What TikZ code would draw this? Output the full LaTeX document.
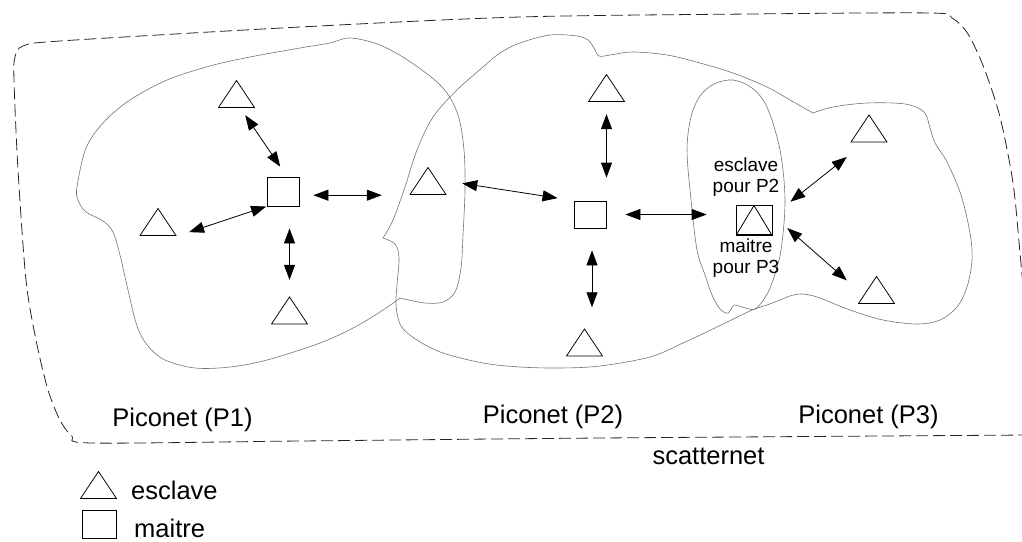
\documentclass[tikz,border=0pt]{standalone}
\usepackage{fontspec}
\setmainfont{Liberation Sans}
\usetikzlibrary{arrows.meta}

\tikzset{
  trianglepic/.style={path picture={
    \draw[line width=0.8pt]
      ([xshift=0.5pt,yshift=0.5pt]path picture bounding box.south west)
      -- ([yshift=-0.5pt]path picture bounding box.north)
      -- ([xshift=-0.5pt,yshift=0.5pt]path picture bounding box.south east) -- cycle;}},
  slave/.style={inner sep=0pt, minimum width=37pt, minimum height=28pt, trianglepic},
  master/.style={draw, line width=0.8pt, inner sep=0pt, minimum width=32pt, minimum height=29pt},
  link/.style={line width=0.8pt, {Triangle[length=15pt,width=11pt]}-{Triangle[length=15pt,width=11pt]}},
  zone/.style={draw=black!55, line width=0.6pt},
  scatter/.style={draw=black!85, line width=0.8pt, dash pattern=on 12pt off 5pt},
  bigtext/.style={inner sep=0pt, font=\fontsize{25.5}{30}\selectfont},
  smalltext/.style={inner sep=0pt, align=center, font=\fontsize{19}{21}\selectfont}
}

\begin{document}
\begin{tikzpicture}[x=1pt,y=-1pt]
\useasboundingbox (0,0) rectangle (1022,541);
\clip (0,0) rectangle (1022,541);

% scatternet boundary
\draw[scatter] plot[smooth, tension=0.5] coordinates {
  (1030,435) (600,438) (300,441) (92,443) (72,436) (60,420) (48,390) (36,340)
  (26,280) (18,170) (14,80) (15,57) (23,46) (60,41) (300,27) (520,17) (750,14)
  (930,13) (952,18) (968,34) (984,68) (1000,117) (1013,183) (1020,253) (1026,320)};

% piconet P1 boundary
\draw[zone] plot[smooth, tension=0.55] coordinates {
  (400,298) (383,310) (355,327) (320,343) (267,360) (230,367) (195,368) (165,360)
  (148,346) (137,326) (128,290) (120,255) (113,232) (103,221) (86,212) (78,200)
  (77,187) (86,148) (104,122) (130,100) (167,80) (210,66) (250,57) (300,48)
  (330,43) (350,38) (380,45) (412,63) (443,88) (458,115) (464,150) (465,190)
  (463,235) (461,268) (455,292) (443,302) (425,303) (400,298)};

% piconets P2 and P3 boundary
\draw[zone] plot[smooth, tension=0.55] coordinates {
  (383,238) (395,244) (399,258) (397,285) (396,305) (401,326) (417,340) (443,353)
  (483,363) (520,367) (560,368) (600,366) (650,357) (683,343) (717,327) (750,311) (767,305)}
  -- plot[smooth, tension=0.55] coordinates {
  (767,305) (780,300) (790,296) (801,294) (817,297) (850,310) (883,320) (917,324)
  (940,320) (957,307) (967,287) (972,260) (970,233) (961,195) (947,162) (935,143)
  (930,128) (924,112) (905,104) (867,103) (833,107) (813,113)}
  -- plot[smooth, tension=0.55] coordinates {
  (813,113) (790,100) (767,87) (733,73) (700,63) (667,55) (633,52) (610,55)
  (599,56) (594,48) (588,40) (577,36) (550,35) (520,43) (500,53) (483,67)
  (457,90) (433,117) (417,150) (405,187) (393,220) (383,238)};

% overlap zone of the bridge node
\draw[zone] plot[smooth cycle, tension=0.55] coordinates {
  (733,80) (752,88) (767,107) (780,150) (785,200) (781,250) (773,280) (766,296)
  (755,309) (742,307) (734,305) (728,313) (720,309) (712,295) (705,275) (697,250)
  (691,200) (687,150) (691,117) (700,96) (714,84)};

% devices
\node[slave] (t1) at (236.5,94) {};
\node[slave] (t2) at (158,222) {};
\node[slave] (t3) at (289.5,310.5) {};
\node[slave] (t4) at (428,181) {};
\node[slave] (t5) at (606.5,88) {};
\node[slave] (t6) at (584.5,342.5) {};
\node[slave] (t7) at (869,128.5) {};
\node[slave] (t8) at (876.5,290) {};
\node[master] (m1) at (283,191.5) {};
\node[master, minimum height=27pt] (m2) at (590,214.5) {};
\node[master, minimum width=36pt, minimum height=30pt, trianglepic] (m3) at (754,220) {};

% links
\draw[link, shorten <=8.4pt, shorten >=12pt] ([xshift=4pt]t1.south) -- ([xshift=4pt]m1.north);
\draw[link, shorten <=0.5pt, shorten >=13pt] (m1.south west) -- (t2.south east);
\draw[link, shorten <=22pt, shorten >=16.5pt] (m1.south -| t3.north) -- (t3.north);
\draw[link, shorten <=14pt, shorten >=27.5pt] (m1.east |- t4.south) -- (t4.south west);
\draw[link, shorten <=15.7pt, shorten >=16.2pt] (t4.east) -- (m2.north west);
\draw[link, shorten <=12pt, shorten >=23pt] (t5.south) -- (t5.south |- m2.north);
\draw[link, shorten <=22pt, shorten >=21pt] ([xshift=2pt]m2.south) -- ([xshift=2pt]m2.south |- t6.north);
\draw[link, shorten <=19pt, shorten >=29pt] (m2.east) -- (m2.east -| m3.west);
\draw[link, shorten <=22.9pt, shorten >=4.5pt] ([yshift=4pt]m3.east) -- ([yshift=-11.5pt]t7.south west);
\draw[link, shorten <=19.8pt, shorten >=14.6pt] ([yshift=5pt]m3.east) -- (t8.west);

% labels
\node[smalltext] (roleA) at (746,177.5) {esclave\\pour P2};
\node[smalltext] (roleB) at (746,257.7) {maitre\\pour P3};
\node[bigtext, anchor=base] (p1) at (182.5,426) {Piconet (P1)};
\node[bigtext, anchor=base] (p2) at (553,423) {Piconet (P2)};
\node[bigtext, anchor=base] (p3) at (868.5,423) {Piconet (P3)};
\node[bigtext, anchor=base] (sc) at (708.5,464) {scatternet};

% legend
\node[slave] (lgT) at (98.5,485) {};
\node[master, minimum width=34pt, minimum height=28pt] (lgM) at (99,524) {};
\node[bigtext, anchor=base west] (lgTt) at (131,499) {esclave};
\node[bigtext, anchor=base west] (lgMt) at (134,537) {maitre};
\end{tikzpicture}
\end{document}
